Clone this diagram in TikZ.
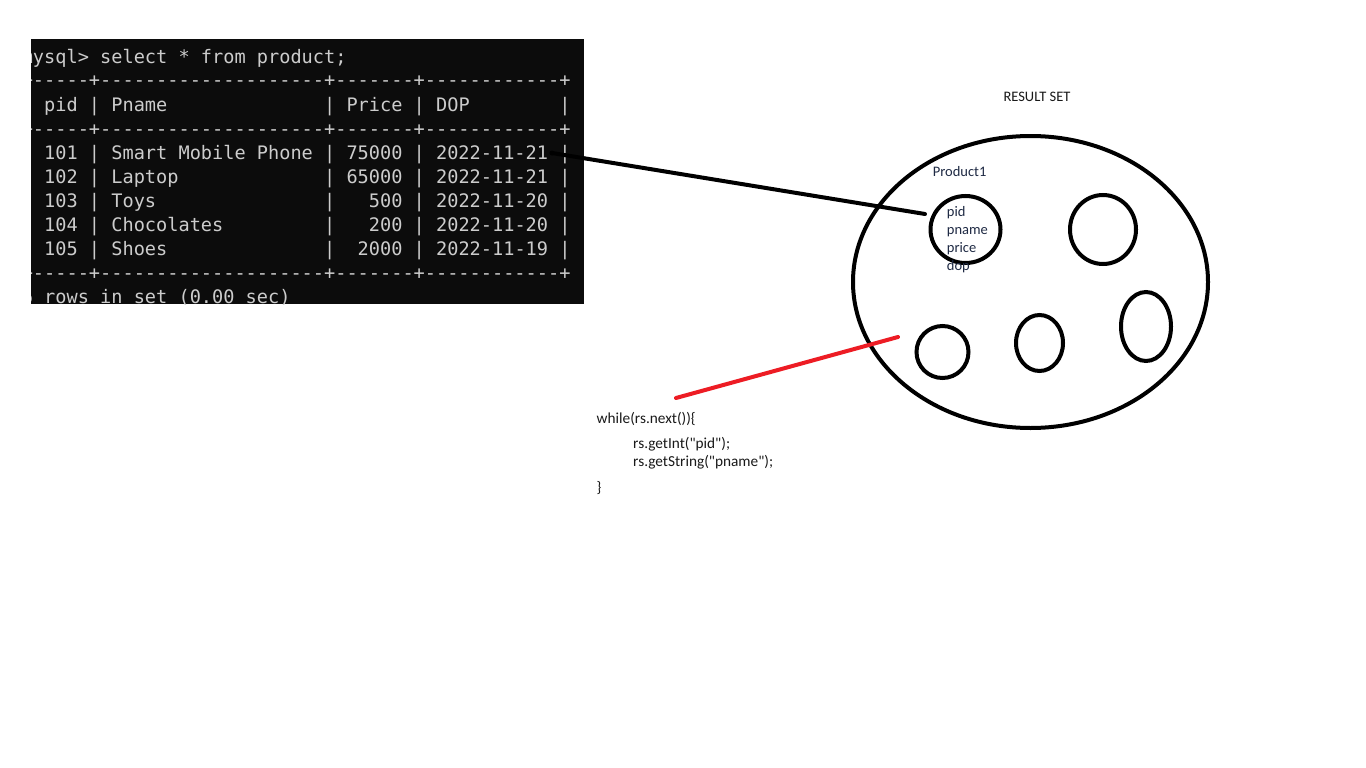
\documentclass[tikz,border=0pt]{standalone}
\usepackage{fontspec}
\setmonofont{DejaVu Sans Mono}
\newfontfamily\calfont{Carlito}
\usetikzlibrary{shapes.geometric}
\definecolor{termbg}{HTML}{0C0C0C}
\definecolor{termfg}{HTML}{CCCCCC}
\definecolor{navytext}{HTML}{1F2A44}
\definecolor{codetext}{HTML}{1A1A1A}
\definecolor{redline}{HTML}{ED1C24}
\tikzset{
  termbox/.style={rectangle, fill=termbg, inner sep=0pt, minimum width=553pt, minimum height=265pt},
  termline/.style={anchor=base west, inner sep=0pt, text=termfg, font=\ttfamily\fontsize{18.6}{24}\selectfont\frenchspacing},
  label/.style={anchor=base west, inner sep=0pt, font=\calfont\fontsize{14.5}{18}\selectfont},
  codeline/.style={anchor=base west, inner sep=0pt, text=codetext, font=\calfont\fontsize{15.3}{18}\selectfont},
  ring/.style={ellipse, draw=black, line width=4pt, inner sep=0pt},
  link/.style={line width=4pt, line cap=round}
}
\begin{document}
\begin{tikzpicture}[x=1pt,y=-1pt]
\useasboundingbox[fill=white] (0,0) rectangle (1366,768);
% terminal screenshot
\node[termbox] (term) at (307.5,171.5) {};
\begin{scope}
\clip (31,39) rectangle (584,304);
\node[termline] (l0) at (21.6,63.5) {mysql> select * from product;};
\node[termline] (l1) at (21.6,87) {+-----+--------------------+-------+------------+};
\node[termline] (l2) at (21.6,111) {|~pid~|~Pname~~~~~~~~~~~~~~|~Price~|~DOP~~~~~~~~|};
\node[termline] (l3) at (21.6,135) {+-----+--------------------+-------+------------+};
\node[termline] (l4) at (21.6,159) {|~101~|~Smart~Mobile~Phone~|~75000~|~2022-11-21~|};
\node[termline] (l5) at (21.6,183) {|~102~|~Laptop~~~~~~~~~~~~~|~65000~|~2022-11-21~|};
\node[termline] (l6) at (21.6,207) {|~103~|~Toys~~~~~~~~~~~~~~~|~~~500~|~2022-11-20~|};
\node[termline] (l7) at (21.6,231) {|~104~|~Chocolates~~~~~~~~~|~~~200~|~2022-11-20~|};
\node[termline] (l8) at (21.6,255) {|~105~|~Shoes~~~~~~~~~~~~~~|~~2000~|~2022-11-19~|};
\node[termline] (l9) at (21.6,279) {+-----+--------------------+-------+------------+};
\node[termline] (l10) at (21.6,303) {6 rows in set (0.00 sec)};
\end{scope}
% result set
\node[label, text=black!90] (rstitle) at (1003.3,102) {RESULT SET};
\node[ring, minimum width=355pt, minimum height=292pt] (rs) at (1030.5,282) {};
\node[label, text=navytext] (prod1) at (932.7,176) {Product1};
\node[ring, minimum width=70pt, minimum height=67pt] (p1) at (965.5,229.5) {};
\node[ring, minimum width=66pt, minimum height=69pt] (p2) at (1103,229.5) {};
\node[ring, minimum width=52pt, minimum height=52pt] (p3) at (942.5,352) {};
\node[ring, minimum width=47pt, minimum height=56pt] (p4) at (1039.5,343) {};
\node[ring, minimum width=50pt, minimum height=69pt] (p5) at (1146,326.5) {};
\node[label, text=navytext] (fpid) at (946.7,216) {pid};
\node[label, text=navytext] (fpname) at (946.7,234) {pname};
\node[label, text=navytext] (fprice) at (946.7,252) {price};
\node[label, text=navytext] (fdop) at (946.7,270) {dop};
% code
\node[codeline] (c1) at (596.5,423) {while(rs.next())\{};
\node[codeline] (c2) at (633,448.5) {rs.getInt("pid");};
\node[codeline] (c3) at (633,466.5) {rs.getString("pname");};
\node[codeline] (c4) at (596.5,492) {\}};
% connectors
\coordinate (rowend) at (552,153);
\coordinate (p1tip) at (925,214);
\draw[link, black] (rowend) -- (p1tip);
\fill[black] (rowend) circle (2.5pt);
\coordinate (codetip) at (676,398);
\coordinate (rstip) at (898,337);
\draw[link, redline] (codetip) -- (rstip);
\end{tikzpicture}
\end{document}
